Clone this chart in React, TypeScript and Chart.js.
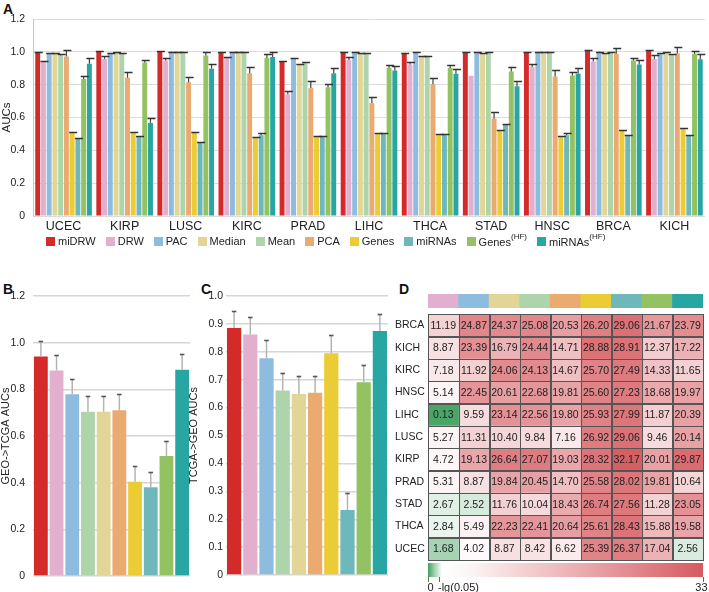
import React, { useEffect, useRef } from 'react';
import { Chart, registerables } from 'chart.js';

Chart.register(...registerables);

const FONT = '"Liberation Sans", Arial, Helvetica, sans-serif';
Chart.defaults.font.family = FONT;
Chart.defaults.color = '#222';

// ---------- Panel A data ----------
const cancerTypes = ['UCEC', 'KIRP', 'LUSC', 'KIRC', 'PRAD', 'LIHC', 'THCA', 'STAD', 'HNSC', 'BRCA', 'KICH'];
const methodNames = ['miDRW', 'DRW', 'PAC', 'Median', 'Mean', 'PCA', 'Genes', 'miRNAs', 'Genes(HF)', 'miRNAs(HF)'];
const methodColors: Record<string, string> = {
  miDRW: '#d42a2a',
  DRW: '#e2b0ce',
  PAC: '#8ebcde',
  Median: '#e2d696',
  Mean: '#aed4ac',
  PCA: '#eaaa70',
  Genes: '#eccc34',
  miRNAs: '#6eb8bc',
  'Genes(HF)': '#92c262',
  'miRNAs(HF)': '#28a6a4',
};

const aucMiDRW = [0.994, 1.0, 1.0, 0.998, 0.943, 0.998, 0.988, 0.994, 0.998, 1.006, 1.006];
const errMiDRW = [0.004, 0.006, 0.004, 0.003, 0.004, 0.004, 0.003, 0.003, 0.003, 0.003, 0.003];
const aucDRW = [0.937, 0.957, 0.947, 0.963, 0.741, 0.951, 0.923, 0.854, 0.907, 0.941, 0.957];
const errDRW = [0.008, 0.018, 0.016, 0.006, 0.02, 0.017, 0.014, 0, 0.016, 0.019, 0.021];
const aucPAC = [0.99, 0.988, 1.0, 0.994, 0.957, 0.998, 0.998, 0.994, 0.994, 1.0, 0.988];
const errPAC = [0.003, 0.004, 0.002, 0.003, 0.005, 0.003, 0.002, 0.002, 0.002, 0.002, 0.006];
const aucMedian = [0.988, 0.998, 1.0, 0.994, 0.923, 0.988, 0.972, 0.988, 0.994, 0.99, 0.998];
const errMedian = [0.003, 0.003, 0.002, 0.002, 0.004, 0.003, 0.003, 0.003, 0.002, 0.003, 0.003];
const aucMean = [0.978, 0.99, 1.0, 0.994, 0.931, 0.988, 0.972, 0.994, 0.994, 0.998, 0.982];
const errMean = [0.008, 0.004, 0.002, 0.002, 0.006, 0.002, 0.002, 0.002, 0.003, 0.002, 0.004];
const aucPCA = [0.972, 0.842, 0.814, 0.87, 0.779, 0.688, 0.802, 0.593, 0.85, 0.988, 0.992];
const errPCA = [0.038, 0.036, 0.034, 0.037, 0.041, 0.037, 0.036, 0.039, 0.037, 0.034, 0.036];
const aucGenes = [0.506, 0.506, 0.506, 0.478, 0.482, 0.502, 0.496, 0.522, 0.482, 0.518, 0.532];
const errGenes = [0.003, 0.003, 0.003, 0.003, 0.003, 0.003, 0.003, 0.003, 0.003, 0.003, 0.003];
const aucMiRNAs = [0.47, 0.482, 0.445, 0.492, 0.482, 0.502, 0.492, 0.557, 0.492, 0.488, 0.492];
const errMiRNAs = [0.004, 0.004, 0.006, 0.014, 0.008, 0.004, 0.008, 0.006, 0.012, 0.004, 0.004];
const aucGenesHF = [0.834, 0.935, 0.978, 0.963, 0.785, 0.903, 0.901, 0.88, 0.856, 0.947, 0.988];
const errGenesHF = [0.016, 0.018, 0.018, 0.021, 0.021, 0.018, 0.016, 0.027, 0.024, 0.016, 0.016];
const aucMiRNAsHF = [0.927, 0.567, 0.897, 0.968, 0.87, 0.887, 0.866, 0.79, 0.866, 0.923, 0.955];
const errMiRNAsHF = [0.036, 0.033, 0.03, 0.028, 0.033, 0.028, 0.031, 0.032, 0.034, 0.028, 0.033];

const aucTicksA = { min: 0, max: 1.2, step: 0.2 };

// ---------- Panel B / C data ----------
const crossMethods = ['miDRW', 'DRW', 'PAC', 'Mean', 'Median', 'PCA', 'Genes', 'miRNAs', 'Genes(HF)', 'miRNAs(HF)'];
const geoToTcga = [0.941, 0.881, 0.779, 0.704, 0.704, 0.71, 0.404, 0.38, 0.514, 0.884];
const geoToTcgaErr = [0.065, 0.066, 0.065, 0.069, 0.069, 0.069, 0.069, 0.067, 0.065, 0.067];
const tcgaToGeo = [0.885, 0.862, 0.777, 0.661, 0.649, 0.653, 0.795, 0.233, 0.691, 0.875];
const tcgaToGeoErr = [0.061, 0.063, 0.064, 0.063, 0.065, 0.061, 0.064, 0.062, 0.062, 0.062];

// ---------- Panel D data ----------
const heatColumns = ['DRW', 'PAC', 'Median', 'Mean', 'PCA', 'Genes', 'miRNAs', 'Genes(HF)', 'miRNAs(HF)'];
const heatRowsLabels = ['BRCA', 'KICH', 'KIRC', 'HNSC', 'LIHC', 'LUSC', 'KIRP', 'PRAD', 'STAD', 'THCA', 'UCEC'];
const heatBRCA = [11.19, 24.87, 24.37, 25.08, 20.53, 26.2, 29.06, 21.67, 23.79];
const heatKICH = [8.87, 23.39, 16.79, 24.44, 14.71, 28.88, 28.91, 12.37, 17.22];
const heatKIRC = [7.18, 11.92, 24.06, 24.13, 14.67, 25.7, 27.49, 14.33, 11.65];
const heatHNSC = [5.14, 22.45, 20.61, 22.68, 19.81, 25.6, 27.23, 18.68, 19.97];
const heatLIHC = [0.13, 9.59, 23.14, 22.56, 19.8, 25.93, 27.99, 11.87, 20.39];
const heatLUSC = [5.27, 11.31, 10.4, 9.84, 7.16, 26.92, 29.06, 9.46, 20.14];
const heatKIRP = [4.72, 19.13, 26.64, 27.07, 19.03, 28.32, 32.17, 20.01, 29.87];
const heatPRAD = [5.31, 8.87, 19.84, 20.45, 14.7, 25.58, 28.02, 19.81, 10.64];
const heatSTAD = [2.67, 2.52, 11.76, 10.04, 18.43, 26.74, 27.56, 11.28, 23.05];
const heatTHCA = [2.84, 5.49, 22.23, 22.41, 20.64, 25.61, 28.43, 15.88, 19.58];
const heatUCEC = [1.68, 4.02, 8.87, 8.42, 6.62, 25.39, 26.37, 17.04, 2.56];
const heatMatrix = [heatBRCA, heatKICH, heatKIRC, heatHNSC, heatLIHC, heatLUSC, heatKIRP, heatPRAD, heatSTAD, heatTHCA, heatUCEC];

const colorScaleMin = 0;
const colorScaleMax = 33;
const colorScaleThreshold = 1.3; // -lg(0.05)
const colorScaleTickValues = [0, 1.3, 33];
const colorScaleTickLabels = ['0', '-lg(0.05)', '33'];

// ---------- colour helpers ----------
const GREEN = [66, 162, 96];
const WHITE = [255, 255, 255];
const RED = [214, 90, 96];
const WHITE_AT = 3.2;
function mixRGB(a: number[], b: number[], t: number) {
  const c = a.map((v, i) => Math.round(v + (b[i] - v) * t));
  return `rgb(${c[0]},${c[1]},${c[2]})`;
}
function heatColor(v: number) {
  if (v <= WHITE_AT) return mixRGB(GREEN, WHITE, Math.max(0, v) / WHITE_AT);
  return mixRGB(WHITE, RED, Math.min(1, (v - WHITE_AT) / (colorScaleMax - WHITE_AT)));
}

// ---------- plugins ----------
const errorBarPlugin = {
  id: 'errorBars',
  afterDatasetsDraw(chart: any, _args: any, opts: any) {
    const { ctx } = chart;
    const yScale = chart.scales.y;
    chart.data.datasets.forEach((ds: any, i: number) => {
      const errs = ds.errors;
      if (!errs) return;
      const meta = chart.getDatasetMeta(i);
      meta.data.forEach((el: any, j: number) => {
        const v = ds.data[j];
        const e = errs[j];
        if (v == null || e == null || e <= 0) return;
        const { x, y } = el.getProps(['x', 'y'], true);
        const top = Math.round(yScale.getPixelForValue(v + e)) + 0.5;
        ctx.save();
        ctx.strokeStyle = opts.lineColor;
        ctx.lineWidth = opts.lineWidth;
        ctx.beginPath();
        ctx.moveTo(x, y);
        ctx.lineTo(x, top);
        ctx.stroke();
        ctx.strokeStyle = opts.capColor;
        ctx.lineWidth = opts.capLineWidth;
        ctx.beginPath();
        ctx.moveTo(x - opts.capWidth / 2 + (opts.capShift || 0), top);
        ctx.lineTo(x + opts.capWidth / 2 + (opts.capShift || 0), top);
        ctx.stroke();
        ctx.restore();
      });
    });
  },
};

const heatCellPlugin = {
  id: 'heatCells',
  afterDatasetsDraw(chart: any) {
    const { ctx } = chart;
    chart.data.datasets.forEach((ds: any, i: number) => {
      const meta = chart.getDatasetMeta(i);
      meta.data.forEach((el: any, j: number) => {
        const { x, y, base, height } = el.getProps(['x', 'y', 'base', 'height'], true);
        const left = Math.min(x, base);
        const w = Math.abs(x - base);
        ctx.save();
        ctx.strokeStyle = '#555';
        ctx.lineWidth = 1;
        ctx.strokeRect(Math.round(left) + 0.5, Math.round(y - height / 2) + 0.5, Math.round(w), Math.round(height));
        ctx.fillStyle = '#222';
        ctx.font = `10.5px ${FONT}`;
        ctx.textAlign = 'center';
        ctx.textBaseline = 'middle';
        ctx.fillText(ds.heat[j].toFixed(2), left + w / 2, y + 0.5);
        ctx.restore();
      });
    });
  },
};

const colorBarTicksPlugin = {
  id: 'colorBarTicks',
  afterDatasetsDraw(chart: any) {
    const { ctx, chartArea } = chart;
    const xs = chart.scales.x;
    ctx.save();
    ctx.strokeStyle = '#666';
    ctx.lineWidth = 1;
    ctx.fillStyle = '#222';
    ctx.font = `11px ${FONT}`;
    ctx.textBaseline = 'middle';
    colorScaleTickValues.forEach((v, i) => {
      const px = Math.round(xs.getPixelForValue(v)) + 0.5;
      ctx.beginPath();
      ctx.moveTo(px, chartArea.bottom);
      ctx.lineTo(px, chartArea.bottom + 5);
      ctx.stroke();
      const ty = chartArea.bottom + 11;
      if (i === 0) {
        ctx.textAlign = 'left';
        ctx.fillText(colorScaleTickLabels[i], px - 1, ty);
      } else if (i === colorScaleTickValues.length - 1) {
        ctx.textAlign = 'right';
        ctx.fillText(colorScaleTickLabels[i], px + 4, ty);
      } else {
        ctx.textAlign = 'left';
        ctx.fillText(colorScaleTickLabels[i], px - 1.5, ty);
      }
    });
    ctx.restore();
  },
};

// ---------- generic canvas ----------
function ChartCanvas({ make, left, top, width, height }: any) {
  const ref = useRef<HTMLCanvasElement | null>(null);
  useEffect(() => {
    if (!ref.current) return;
    const chart = new Chart(ref.current, make());
    return () => chart.destroy();
  }, []);
  return (
    <canvas
      ref={ref}
      width={width}
      height={height}
      style={{ position: 'absolute', left, top, width, height, display: 'block' }}
    />
  );
}

const baseOptions = {
  responsive: false,
  maintainAspectRatio: false,
  animation: false as const,
  events: [] as any[],
};

function makePanelA() {
  const series = [
    [aucMiDRW, errMiDRW],
    [aucDRW, errDRW],
    [aucPAC, errPAC],
    [aucMedian, errMedian],
    [aucMean, errMean],
    [aucPCA, errPCA],
    [aucGenes, errGenes],
    [aucMiRNAs, errMiRNAs],
    [aucGenesHF, errGenesHF],
    [aucMiRNAsHF, errMiRNAsHF],
  ];
  return {
    type: 'bar',
    data: {
      labels: cancerTypes,
      datasets: methodNames.map((name, i) => ({
        label: name,
        data: series[i][0],
        errors: series[i][1],
        backgroundColor: methodColors[name],
        borderWidth: 0,
        barPercentage: 0.86,
        categoryPercentage: 0.94,
      })),
    },
    options: {
      ...baseOptions,
      layout: { padding: { top: 19, right: 4, left: 0, bottom: 0 } },
      plugins: {
        legend: { display: false },
        tooltip: { enabled: false },
        errorBars: { lineColor: '#444', lineWidth: 1.2, capColor: '#333', capLineWidth: 1.5, capWidth: 8, capShift: 1 },
      },
      scales: {
        x: {
          grid: { display: false, drawTicks: false },
          border: { display: false },
          ticks: { font: { size: 12.5 }, color: '#222', padding: 3 },
          afterFit: (s: any) => { s.height = 18; },
        },
        y: {
          min: aucTicksA.min,
          max: aucTicksA.max,
          ticks: { stepSize: aucTicksA.step, font: { size: 10.5 }, color: '#222', padding: 8 },
          grid: { color: '#dcdcdc', lineWidth: 1, drawTicks: false },
          border: { display: true, color: '#c8c8c8', width: 1 },
          title: { display: true, text: 'AUCs', font: { size: 11.5 }, color: '#222', padding: 0 },
          afterFit: (s: any) => { s.width = 33; },
        },
      },
    },
    plugins: [errorBarPlugin],
  };
}

function makeCrossPanel(values: number[], errs: number[], yMax: number, step: number, title: string, axisWidth: number, tickPad: number, rightPad: number, bottomPad: number) {
  return {
    type: 'bar',
    data: {
      labels: crossMethods,
      datasets: [
        {
          label: title,
          data: values,
          errors: errs,
          backgroundColor: crossMethods.map((m) => methodColors[m]),
          borderWidth: 0,
          barPercentage: 0.88,
          categoryPercentage: 1,
        },
      ],
    },
    options: {
      ...baseOptions,
      layout: { padding: { top: 16, right: rightPad, left: 0, bottom: bottomPad } },
      plugins: {
        legend: { display: false },
        tooltip: { enabled: false },
        errorBars: { lineColor: '#b4b4b4', lineWidth: 1.5, capColor: '#555', capLineWidth: 1.6, capWidth: 4.5, capShift: 0 },
      },
      scales: {
        x: { display: false },
        y: {
          min: 0,
          max: yMax,
          ticks: { stepSize: step, font: { size: 10.5 }, color: '#222', padding: tickPad },
          grid: { color: '#d6d6d6', lineWidth: 1.4, drawTicks: false },
          border: { display: false },
          title: { display: true, text: title, font: { size: 11, lineHeight: 1 }, color: '#222', padding: 0 },
          afterFit: (s: any) => { s.width = axisWidth; },
        },
      },
    },
    plugins: [errorBarPlugin],
  };
}

function makeHeatmap() {
  return {
    type: 'bar',
    data: {
      labels: heatRowsLabels,
      datasets: heatColumns.map((col, c) => {
        const colValues = heatMatrix.map((row) => row[c]);
        return {
          label: col,
          data: heatRowsLabels.map(() => 1),
          heat: colValues,
          backgroundColor: colValues.map((v) => heatColor(v)),
          borderWidth: 0,
          barPercentage: 1,
          categoryPercentage: 1,
          stack: 'cells',
        };
      }),
    },
    options: {
      ...baseOptions,
      indexAxis: 'y',
      layout: { padding: { top: 4, right: 6, left: 0, bottom: 8 } },
      plugins: { legend: { display: false }, tooltip: { enabled: false } },
      scales: {
        x: { type: 'linear', stacked: true, min: 0, max: heatColumns.length, display: false },
        y: {
          stacked: true,
          grid: { display: false },
          border: { display: false },
          ticks: { font: { size: 10.5 }, color: '#222', crossAlign: 'far', padding: 0 },
          afterFit: (s: any) => { s.width = 33; },
        },
      },
    },
    plugins: [heatCellPlugin],
  };
}

function makeStrip() {
  return {
    type: 'bar',
    data: {
      labels: heatColumns,
      datasets: [
        {
          data: heatColumns.map(() => 1),
          backgroundColor: heatColumns.map((c) => methodColors[c]),
          borderWidth: 0,
          barPercentage: 1,
          categoryPercentage: 1,
        },
      ],
    },
    options: {
      ...baseOptions,
      layout: { padding: 0 },
      plugins: { legend: { display: false }, tooltip: { enabled: false } },
      scales: { x: { display: false }, y: { display: false, min: 0, max: 1 } },
    },
  };
}

function makeColorBar() {
  return {
    type: 'bar',
    data: {
      labels: [''],
      datasets: [
        {
          data: [[colorScaleMin, colorScaleMax]],
          backgroundColor: (ctx: any) => {
            const chart = ctx.chart;
            if (!chart.chartArea) return '#fff';
            const xs = chart.scales.x;
            const x0 = xs.getPixelForValue(colorScaleMin);
            const x1 = xs.getPixelForValue(colorScaleMax);
            const g = chart.ctx.createLinearGradient(x0, 0, x1, 0);
            const span = colorScaleMax - colorScaleMin;
            g.addColorStop(0, heatColor(colorScaleMin));
            g.addColorStop((colorScaleThreshold * 0.55 - colorScaleMin) / span, heatColor(WHITE_AT * 0.45));
            g.addColorStop((colorScaleThreshold * 1.3 - colorScaleMin) / span, '#ffffff');
            g.addColorStop((WHITE_AT + 2 - colorScaleMin) / span, heatColor(WHITE_AT + 2));
            g.addColorStop(1, heatColor(colorScaleMax));
            return g;
          },
          borderWidth: 0,
          barPercentage: 1,
          categoryPercentage: 1,
        },
      ],
    },
    options: {
      ...baseOptions,
      indexAxis: 'y',
      layout: { padding: { top: 3, right: 6, left: 8, bottom: 15 } },
      plugins: { legend: { display: false }, tooltip: { enabled: false } },
      scales: {
        x: { type: 'linear', min: colorScaleMin, max: colorScaleMax, display: false },
        y: { display: false },
      },
    },
    plugins: [colorBarTicksPlugin],
  };
}

function Legend() {
  return (
    <div
      style={{
        position: 'absolute',
        left: 46,
        top: 232,
        height: 18,
        display: 'flex',
        justifyContent: 'flex-start',
        alignItems: 'center',
        gap: 10,
        fontFamily: FONT,
        fontSize: 11,
        color: '#222',
        whiteSpace: 'nowrap',
      }}
    >
      {methodNames.map((name) => {
        const hf = name.endsWith('(HF)');
        const base = hf ? name.replace('(HF)', '') : name;
        return (
          <span key={name} style={{ display: 'flex', alignItems: 'center' }}>
            <span style={{ width: 9, height: 9, background: methodColors[name], display: 'inline-block', marginRight: 3 }} />
            <span>
              {base}
              {hf ? <sup style={{ fontSize: 8, position: 'relative', top: -2 }}>(HF)</sup> : null}
            </span>
          </span>
        );
      })}
    </div>
  );
}

const letterStyle: any = { position: 'absolute', fontFamily: FONT, fontWeight: 'bold', fontSize: 14, color: '#111', lineHeight: '14px' };

export default function App() {
  return (
    <div style={{ position: 'absolute', left: 0, top: 0, width: 709, height: 592, background: '#fff', overflow: 'hidden' }}>
      <div style={{ ...letterStyle, left: 3, top: 2 }}>A</div>
      <div style={{ ...letterStyle, left: 3, top: 282 }}>B</div>
      <div style={{ ...letterStyle, left: 201, top: 282 }}>C</div>
      <div style={{ ...letterStyle, left: 399, top: 282 }}>D</div>
      <ChartCanvas make={makePanelA} left={0} top={0} width={709} height={234} />
      <Legend />
      <ChartCanvas
        make={() => makeCrossPanel(geoToTcga, geoToTcgaErr, 1.2, 0.2, 'GEO->TCGA AUCs', 33, 8, 10, 16)}
        left={0}
        top={280}
        width={200}
        height={312}
      />
      <ChartCanvas
        make={() => makeCrossPanel(tcgaToGeo, tcgaToGeoErr, 1, 0.1, 'TCGA->GEO AUCs', 38, 3, 12, 17)}
        left={188}
        top={280}
        width={212}
        height={312}
      />
      <ChartCanvas make={makeStrip} left={428} top={294} width={275} height={14} />
      <ChartCanvas make={makeHeatmap} left={395} top={308} width={314} height={260} />
      <ChartCanvas make={makeColorBar} left={420} top={560} width={289} height={32} />
    </div>
  );
}
